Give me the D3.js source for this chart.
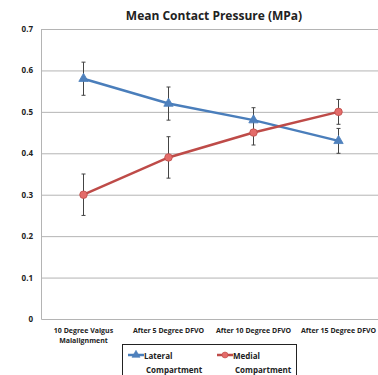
<!DOCTYPE html>
<html lang="en">
<head>
    <meta charset="UTF-8" />
    <title>Mean Contact Pressure</title>
    <script src="https://d3js.org/d3.v7.min.js"></script>
    <style>
        body { margin: 0; background: #fff; }
        svg text { font-family: "Open Sans", "Liberation Sans", sans-serif; font-weight: bold; fill: #222; }
        .gridlines line { stroke: #b4b4b4; }
        .gridlines .domain { stroke: none; }
        .axis .domain { stroke: #b4b4b4; }
        .axis line { stroke: none; }
    </style>
</head>
<body>
    <svg id="chart" width="378" height="375"></svg>
    <script>
        const categories = [
            ["10 Degree Valgus", "Malalignment"],
            ["After 5 Degree DFVO"],
            ["After 10 Degree DFVO"],
            ["After 15 Degree DFVO"]
        ];
        const lateral = [0.58, 0.52, 0.48, 0.43];
        const lateralErr = [0.04, 0.04, 0.03, 0.03];
        const medial = [0.30, 0.39, 0.45, 0.50];
        const medialErr = [0.05, 0.05, 0.03, 0.03];
        const yTicks = [0, 0.1, 0.2, 0.3, 0.4, 0.5, 0.6, 0.7];

        const svg = d3.select("svg#chart");
        const margins = { top: 29, left: 41, bottom: 56 };
        const chartWidth = 340;
        const chartHeight = 375 - margins.top - margins.bottom;

        const xScale = d3.scaleBand()
            .domain(categories.map((d, i) => i))
            .range([margins.left, margins.left + chartWidth]);

        const yScale = d3.scaleLinear()
            .domain([0, 0.7])
            .range([margins.top + chartHeight, margins.top]);

        const cx = (i) => xScale(i) + xScale.bandwidth() / 2;

        // gridlines
        svg.append("g")
            .attr("class", "gridlines")
            .attr("transform", `translate(${margins.left},0)`)
            .call(d3.axisLeft(yScale).tickValues(yTicks.slice(1)).tickFormat("").tickSize(-chartWidth));

        // axes
        const leftAxis = svg.append("g")
            .attr("class", "axis")
            .attr("transform", `translate(${margins.left},0)`)
            .call(d3.axisLeft(yScale).tickValues(yTicks).tickSize(0).tickPadding(8)
                .tickFormat((d) => d === 0 ? "0" : d3.format(".1f")(d)));
        leftAxis.selectAll("text").style("font-size", "8px");

        svg.append("g")
            .attr("class", "axis")
            .attr("transform", `translate(0,${margins.top + chartHeight})`)
            .call(d3.axisBottom(xScale).tickSize(0).tickFormat(""));

        categories.forEach((lines, i) => {
            const t = svg.append("text")
                .attr("x", cx(i))
                .attr("y", margins.top + chartHeight + 14)
                .attr("text-anchor", "middle")
                .style("font-size", "7px");
            lines.forEach((l, j) => {
                t.append("tspan").attr("x", cx(i)).attr("dy", j === 0 ? 0 : 10).text(l);
            });
        });

        // title
        svg.append("text")
            .attr("x", 214)
            .attr("y", 20)
            .attr("text-anchor", "middle")
            .style("font-size", "12px")
            .text("Mean Contact Pressure (MPa)");

        const series = [
            { values: lateral, err: lateralErr, color: "#4a7ebb", fill: "#4f81bd", marker: d3.symbolTriangle },
            { values: medial, err: medialErr, color: "#be4b48", fill: "#e46c6a", marker: d3.symbolCircle }
        ];

        // error bars
        series.forEach((s) => {
            const g = svg.append("g");
            s.values.forEach((v, i) => {
                const hi = yScale(v + s.err[i]);
                const lo = yScale(v - s.err[i]);
                g.append("line").attr("x1", cx(i)).attr("x2", cx(i)).attr("y1", hi).attr("y2", lo)
                    .attr("stroke", "#444").attr("stroke-width", 1);
                [hi, lo].forEach((y) => {
                    g.append("line").attr("x1", cx(i) - 2).attr("x2", cx(i) + 2).attr("y1", y).attr("y2", y)
                        .attr("stroke", "#444").attr("stroke-width", 1);
                });
            });
        });

        const lineGen = d3.line().x((d, i) => cx(i)).y((d) => yScale(d));

        series.forEach((s) => {
            svg.append("path")
                .datum(s.values)
                .attr("fill", "none")
                .attr("stroke", s.color)
                .attr("stroke-width", 2.5)
                .attr("d", lineGen);

            svg.selectAll(null)
                .data(s.values)
                .join("path")
                .attr("transform", (d, i) => `translate(${cx(i)},${yScale(d)})`)
                .attr("d", d3.symbol().type(s.marker).size(s.marker === d3.symbolCircle ? 45 : 38))
                .attr("fill", s.fill)
                .attr("stroke", s.color)
                .attr("stroke-width", 0.8);
        });

        // legend
        const legend = svg.append("g");
        legend.append("rect")
            .attr("x", 122.5).attr("y", 344.5).attr("width", 174).attr("height", 40)
            .attr("fill", "#fff").attr("stroke", "#222").attr("stroke-width", 1);

        const legendItems = [
            { name: ["Lateral", "Compartment"], s: series[0], x: 128 },
            { name: ["Medial", "Compartment"], s: series[1], x: 217 }
        ];
        legendItems.forEach((it) => {
            legend.append("line")
                .attr("x1", it.x).attr("x2", it.x + 16).attr("y1", 355).attr("y2", 355)
                .attr("stroke", it.s.color).attr("stroke-width", 2.5);
            legend.append("path")
                .attr("transform", `translate(${it.x + 8},355)`)
                .attr("d", d3.symbol().type(it.s.marker).size(28))
                .attr("fill", it.s.fill).attr("stroke", it.s.color).attr("stroke-width", 0.6);
            legend.append("text").attr("x", it.x + 16).attr("y", 358.5).style("font-size", "8px").text(it.name[0]);
            legend.append("text").attr("x", it.x + 18).attr("y", 372.5).style("font-size", "8px").text(it.name[1]);
        });
    </script>
</body>
</html>
